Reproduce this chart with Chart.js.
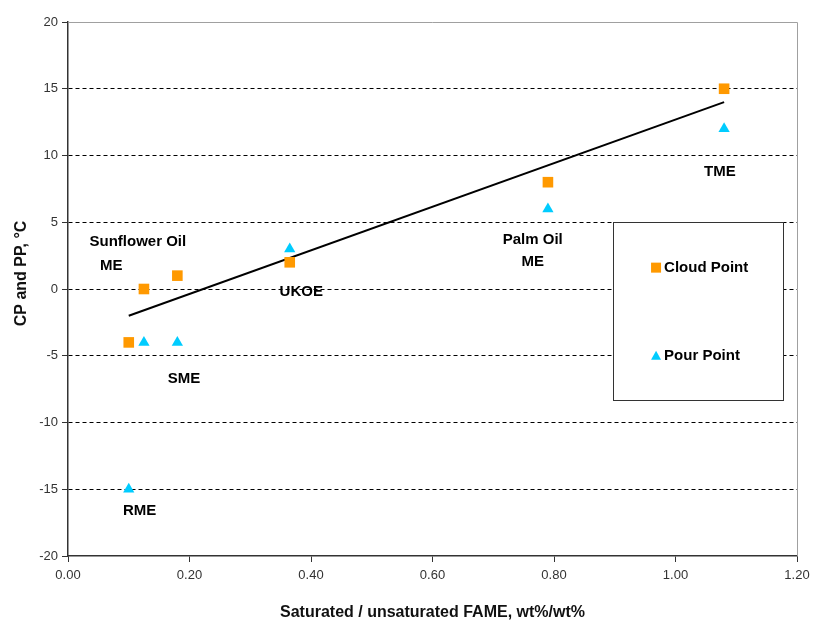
<!DOCTYPE html>
<html>
<head>
<meta charset="utf-8">
<script src="https://cdn.jsdelivr.net/npm/chart.js@4.4.0/dist/chart.umd.min.js"></script>
<style>
  html, body { margin: 0; padding: 0; background: #fff; }
</style>
</head>
<body>
<canvas id="myChart" width="813" height="622"></canvas>
<script>
// data
const ratio = [0.10, 0.125, 0.18, 0.365, 0.79, 1.08];
const cloudPoint = [-4, 0, 1, 2, 8, 15];
const pourPoint = [-15, -4, -4, 3, 6, 12];
const trendX = [0.10, 1.08];
const trendY = [-2, 14];
const xTicks = [0, 0.2, 0.4, 0.6, 0.8, 1.0, 1.2];
const yTicks = [-20, -15, -10, -5, 0, 5, 10, 15, 20];
const fameNames = ['Sunflower Oil', 'ME', 'UKOE', 'SME', 'RME', 'Palm Oil', 'ME', 'TME'];

const ORANGE = '#FF9900';
const CYAN = '#00CCFF';
const FONT = '"Liberation Sans", Arial, sans-serif';

// where each name sits, in data units
const nameAt = [
  [0.115, 3.5], [0.071, 1.7], [0.384, -0.2], [0.191, -6.7],
  [0.118, -16.6], [0.765, 3.7], [0.765, 2.0], [1.073, 8.8]
];

function pts(xs, ys) {
  return xs.map((x, i) => ({ x: x, y: ys[i] }));
}

const extras = {
  id: 'extras',
  afterDatasetsDraw(chart) {
    const ctx = chart.ctx;
    const a = chart.chartArea;
    const xs = chart.scales.x, ys = chart.scales.y;
    ctx.save();
    // light frame on top and right
    ctx.strokeStyle = '#a0a0a0';
    ctx.lineWidth = 1;
    ctx.beginPath();
    ctx.moveTo(a.left, a.top + 0.5);
    ctx.lineTo(a.right + 0.5, a.top + 0.5);
    ctx.lineTo(a.right + 0.5, a.bottom);
    ctx.stroke();

    // point names
    ctx.fillStyle = '#000';
    ctx.font = 'bold 15px ' + FONT;
    ctx.textAlign = 'center';
    ctx.textBaseline = 'middle';
    fameNames.forEach((n, i) => {
      ctx.fillText(n, xs.getPixelForValue(nameAt[i][0]), ys.getPixelForValue(nameAt[i][1]));
    });

    // legend box
    const bx1 = xs.getPixelForValue(0.897), bx2 = xs.getPixelForValue(1.177);
    const by1 = ys.getPixelForValue(5), by2 = ys.getPixelForValue(-8.3);
    ctx.fillStyle = '#fff';
    ctx.fillRect(bx1, by1, bx2 - bx1, by2 - by1);
    ctx.strokeStyle = '#333';
    ctx.strokeRect(Math.round(bx1) + 0.5, Math.round(by1) + 0.5, Math.round(bx2 - bx1), Math.round(by2 - by1));

    const mx = xs.getPixelForValue(0.968);
    const y1 = ys.getPixelForValue(1.6), y2 = ys.getPixelForValue(-5);
    ctx.fillStyle = ORANGE;
    ctx.fillRect(mx - 5, y1 - 5, 10, 10);
    ctx.fillStyle = CYAN;
    ctx.beginPath();
    ctx.moveTo(mx, y2 - 5);
    ctx.lineTo(mx + 5, y2 + 4);
    ctx.lineTo(mx - 5, y2 + 4);
    ctx.closePath();
    ctx.fill();
    ctx.fillStyle = '#000';
    ctx.textAlign = 'left';
    ctx.fillText('Cloud Point', mx + 8, y1);
    ctx.fillText('Pour Point', mx + 8, y2);
    ctx.restore();
  }
};

const ctx = document.getElementById('myChart').getContext('2d');
const myChart = new Chart(ctx, {
  type: 'scatter',
  data: {
    datasets: [
      {
        label: 'Cloud Point',
        data: pts(ratio, cloudPoint),
        pointStyle: 'rect',
        pointRadius: 7.5,
        pointHoverRadius: 7.5,
        backgroundColor: ORANGE,
        borderColor: ORANGE,
        borderWidth: 0
      },
      {
        label: 'Pour Point',
        data: pts(ratio, pourPoint),
        pointStyle: 'triangle',
        pointRadius: 6.5,
        pointHoverRadius: 6.5,
        backgroundColor: CYAN,
        borderColor: CYAN,
        borderWidth: 0
      },
      {
        label: 'Trend',
        type: 'line',
        data: pts(trendX, trendY),
        borderColor: '#000',
        borderWidth: 2,
        pointRadius: 0,
        fill: false
      }
    ]
  },
  options: {
    responsive: false,
    animation: false,
    layout: { padding: { top: 22, right: 16, left: 0, bottom: 0 } },
    plugins: {
      legend: { display: false },
      tooltip: { enabled: false }
    },
    scales: {
      x: {
        type: 'linear',
        min: 0,
        max: 1.2,
        afterBuildTicks: s => { s.ticks = xTicks.map(v => ({ value: v })); },
        afterFit: s => { s.height = 66; s.paddingRight = 0; s.paddingLeft = 0; },
        grid: { drawOnChartArea: false, tickLength: 6, tickColor: '#333', color: '#333' },
        border: { color: '#333', width: 1.5 },
        ticks: {
          color: '#333',
          padding: 6,
          font: { family: FONT, size: 13 },
          callback: v => v.toFixed(2)
        },
        title: {
          display: true,
          text: 'Saturated / unsaturated FAME, wt%/wt%',
          color: '#111',
          font: { family: FONT, size: 16, weight: 'bold' },
          padding: { top: 0, bottom: 0 }
        }
      },
      y: {
        min: -20,
        max: 20,
        afterBuildTicks: s => { s.ticks = yTicks.map(v => ({ value: v })); },
        afterFit: s => { s.width = 68; },
        grid: {
          tickLength: 6,
          tickColor: '#333',
          lineWidth: 1,
          color: c => (c.tick && (c.tick.value === 20 || c.tick.value === -20)) ? 'rgba(0,0,0,0)' : '#000'
        },
        border: { color: '#333', width: 1.5, dash: [4, 3] },
        ticks: {
          color: '#333',
          padding: 4,
          font: { family: FONT, size: 13 }
        },
        title: {
          display: true,
          text: '\u00a0\u00a0\u00a0\u00a0\u00a0\u00a0\u00a0CP and PP, °C',
          color: '#111',
          font: { family: FONT, size: 16, weight: 'bold' },
          padding: { top: 12, bottom: 0 }
        }
      }
    }
  },
  plugins: [extras]
});
</script>
</body>
</html>
